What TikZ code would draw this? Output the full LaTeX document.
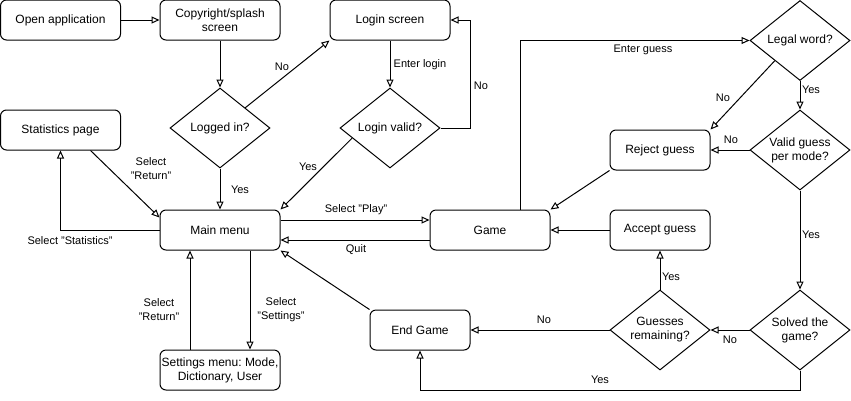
\documentclass[tikz,border=0pt]{standalone}
\usepackage{fontspec}
\setmainfont{Liberation Sans}
\usetikzlibrary{shapes.geometric,arrows.meta,calc}
\frenchspacing
\begin{document}
\begin{tikzpicture}[x=1pt,y=-1pt,
  every node/.style={font=\fontsize{12}{14}\selectfont},
  box/.style={draw, rounded corners=6pt, minimum width=120pt, minimum height=40pt, inner sep=1pt, align=center, line width=1pt},
  sbox/.style={box, minimum width=100pt},
  dia/.style={draw, diamond, aspect=1.25, minimum width=100pt, minimum height=80pt, inner sep=0pt, align=center, line width=1pt},
  arr/.style={line width=1pt, -{Triangle[open,length=8pt,width=7pt]}},
  lbl/.style={font=\fontsize{11}{14}\selectfont, align=center, inner sep=0pt},
]
\fill[white] (0,0) rectangle (851,400);
\useasboundingbox (0,0) rectangle (851,400);

% nodes
\node[box] (oa) at (60.5,20) {Open application};
\node[box] (cs) at (220,20) {Copyright/splash\\screen};
\node[box] (ls) at (390,20) {Login screen};
\node[dia] (li) at (220,128) {Logged in?};
\node[dia] (lv) at (390,128) {Login valid?};
\node[box] (sp) at (60.5,130) {Statistics page};
\node[box] (mm) at (220,230) {Main menu};
\node[box] (sm) at (220,370) {\frenchspacing Settings menu: Mode,\\Dictionary, User};
\node[box] (gm) at (490,230) {Game};
\node[sbox] (ag) at (660,230) {Accept guess};
\node[sbox] (eg) at (420,330) {End Game};
\node[dia] (gr) at (660,330) {Guesses\\remaining?};
\node[dia] (sg) at (800,330) {Solved the\\game?};
\node[dia] (lw) at (800,40.5) {Legal word?};
\node[dia] (vg) at (800,150) {Valid guess\\per mode?};
\node[sbox] (rg) at (660,150) {Reject guess};

% connectors
\draw[arr] (oa) -- (cs);
\draw[arr] (cs) -- (li);
\draw[arr] ($(li.north)!0.5!(li.east)$) -- (ls.south west);
\draw[arr] (li) -- (mm);
\draw[arr] (ls) -- (lv);
\draw[arr] (lv.east) -- ++(30,0) |- (ls.east);
\draw[arr] ($(lv.west)!0.25!(lv.south)$) -- (mm.north east);
\draw[arr] ($(sp.south)+(30,0)$) -- ($(mm.north west)+(0,8)$);
\draw[arr] (mm.west) -| (sp.south);
\draw[arr] ([yshift=10pt]mm.east) -- ([yshift=10pt]gm.west);
\draw[arr] ([yshift=-10pt]gm.west) -- ([yshift=-10pt]mm.east);
\draw[arr] ([xshift=30pt]mm.south) -- ([xshift=30pt]sm.north);
\draw[arr] ([xshift=-30pt]sm.north) -- ([xshift=-30pt]mm.south);
\draw[arr] (eg.north west) -- (mm.south east);
\draw[arr] ([xshift=30pt]gm.north) |- (lw.west);
\draw[arr] ($(lw.west)!0.5!(lw.south)$) -- (rg.north east);
\draw[arr] (lw) -- (vg);
\draw[arr] (vg) -- (rg);
\draw[arr] (rg.south west) -- (gm.north east);
\draw[arr] (vg) -- (sg);
\draw[arr] (ag) -- (gm);
\draw[arr] (sg) -- (gr);
\draw[arr] (gr) -- (ag);
\draw[arr] (gr) -- (eg);
\draw[arr] (sg.south) -- ++(0,20) -| (eg.south);

% labels
\node[lbl] (t1) at (282,67) {No};
\node[lbl] (t2) at (240,190) {Yes};
\node[lbl] (t3) at (420,65) {Enter login};
\node[lbl] (t4) at (481,86) {No};
\node[lbl] (t5) at (308,167) {Yes};
\node[lbl] (t6) at (151,169) {Select\\"Return"};
\node[lbl] (t7) at (70,241) {Select "Statistics"};
\node[lbl] (t8) at (356,210) {Select "Play"};
\node[lbl] (t9) at (356,250) {Quit};
\node[lbl] (t10) at (159,310) {Select\\"Return"};
\node[lbl] (t11) at (281,310) {Select\\"Settings"};
\node[lbl] (t12) at (643,50) {Enter guess};
\node[lbl] (t13) at (723,98) {No};
\node[lbl] (t14) at (811,90) {Yes};
\node[lbl] (t15) at (731,140) {No};
\node[lbl] (t16) at (811,235) {Yes};
\node[lbl] (t17) at (671,277) {Yes};
\node[lbl] (t18) at (544,320) {No};
\node[lbl] (t19) at (730,340) {No};
\node[lbl] (t20) at (600,380) {Yes};
\end{tikzpicture}
\end{document}
